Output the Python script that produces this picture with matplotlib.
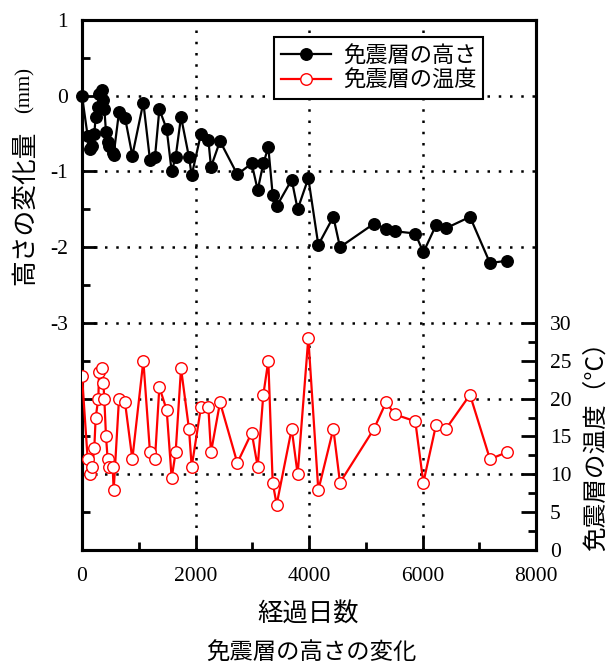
import matplotlib
matplotlib.use('Agg')
import matplotlib.pyplot as plt
from matplotlib.ticker import MultipleLocator, FixedLocator, FuncFormatter
from matplotlib.lines import Line2D

# ---- data ----
days = [0, 100, 141, 182, 217, 241, 288, 300, 347, 376,
        393, 423, 452, 481, 540, 558, 652, 758, 887, 1081,
        1198, 1286, 1363, 1492, 1580, 1650, 1745, 1885, 1933, 2097,
        2226, 2273, 2432, 2737, 2990, 3096, 3195, 3283, 3360, 3430,
        3695, 3800, 3988, 4164, 4429, 4546, 5145, 5357, 5515, 5873,
        6015, 6238, 6414, 6837, 7189, 7483]

height_mm = [0.0, -0.535, -0.71, -0.67, -0.5, -0.28, -0.15, 0.02, 0.07, -0.05,
             -0.17, -0.48, -0.61, -0.67, -0.75, -0.78, -0.215, -0.29, -0.79, -0.09,
             -0.85, -0.81, -0.18, -0.44, -1.0, -0.81, -0.28, -0.81, -1.05, -0.5,
             -0.58, -0.94, -0.6, -1.04, -0.895, -1.246, -0.895, -0.68, -1.31, -1.46,
             -1.11, -1.5, -1.09, -1.97, -1.6, -2.0, -1.69, -1.76, -1.79, -1.82,
             -2.07, -1.71, -1.75, -1.6, -2.21, -2.18]

temp_c = [23, 12, 10, 11, 13.5, 17.5, 20, 23.5, 24, 22.1,
          20, 15, 12, 11, 11, 7.9, 20, 19.5, 12, 25,
          12.9, 12, 21.5, 18.5, 9.5, 12.9, 24, 16, 11, 18.9,
          18.9, 12.9, 19.5, 11.5, 15.5, 11, 20.5, 25, 8.9, 6,
          16, 10, 28, 7.9, 16, 8.9, 16, 19.5, 17.9, 17,
          8.9, 16.5, 16, 20.5, 12, 12.9]

series_names = ['免震層の高さ', '免震層の温度']
left_label_jp = '高さの変化量'
left_label_unit = '(mm)'
right_label = '免震層の温度（°C）'
x_label = '経過日数'
caption = '免震層の高さの変化'
right_tick_values = [0, 5, 10, 15, 20, 25, 30]

CJK = ['Noto Sans CJK JP', 'DejaVu Sans']
TICKFONT = 'Liberation Serif'

fig = plt.figure(figsize=(6.08, 6.66), dpi=100)
ax = fig.add_axes([82/608, 1 - 550/666, 454/608, 530/666])
ax2 = ax.twinx()

# black series
ax.plot(days, height_mm, color='black', lw=1.6, marker='o', ms=8.3,
        mfc='black', mec='black', zorder=3, clip_on=False)
# red series
ax2.plot(days, temp_c, color='red', lw=1.6, marker='o', ms=8.3,
         mfc='white', mec='red', mew=1.0, zorder=3)

ax.set_xlim(0, 8000)
ax.set_ylim(-6, 1)
ax2.set_ylim(0, 70)

ax.xaxis.set_major_locator(MultipleLocator(2000))
ax.xaxis.set_minor_locator(MultipleLocator(1000))
ax.yaxis.set_major_locator(MultipleLocator(1))
ax.yaxis.set_minor_locator(MultipleLocator(0.5))
ax.yaxis.set_major_formatter(FuncFormatter(
    lambda v, p: f"{int(round(v))}" if v > -3.5 else ""))
ax.xaxis.set_major_formatter(FuncFormatter(lambda v, p: f"{int(round(v))}"))

ax2.yaxis.set_major_locator(FixedLocator(right_tick_values))
ax2.yaxis.set_minor_locator(FixedLocator([v + 2.5 for v in right_tick_values[:-1]]))
ax2.yaxis.set_major_formatter(FuncFormatter(lambda v, p: f"{int(round(v))}"))

for a in (ax, ax2):
    a.tick_params(which='major', direction='in', length=10.5, width=2.0,
                  labelsize=15.5, pad=10, color='black')
    a.tick_params(which='minor', direction='in', length=6, width=2.0)
    for lab in a.get_xticklabels() + a.get_yticklabels():
        lab.set_family(TICKFONT)
    for s in a.spines.values():
        s.set_linewidth(2.2)
ax.tick_params(axis='x', which='major', pad=12)
ax.tick_params(top=False, right=False, which='both')
ax2.tick_params(left=False, top=False, which='both')

ax.grid(True, which='major', color='black', linestyle=(0, (1, 3.5)), linewidth=1.8)
ax.set_axisbelow(True)

# labels
fig.text(25/608, 1 - 208/666, left_label_jp, rotation=90, ha='center', va='center',
         fontsize=18.5, family=CJK)
fig.text(25/608, 1 - 90/666, left_label_unit, rotation=90, ha='center', va='center',
         fontsize=15, family=TICKFONT)
fig.text(596/608, 1 - 440/666, right_label, rotation=90, ha='center', va='center',
         fontsize=17.7, family=CJK)
fig.text(308/608, 1 - 614/666, x_label, ha='center', va='center',
         fontsize=18.3, family=CJK)
fig.text(311/608, 1 - 652/666, caption, ha='center', va='center',
         fontsize=16.8, family=CJK)

handles = [Line2D([], [], color='black', lw=1.6, marker='o', ms=8.3, mfc='black', mec='black'),
           Line2D([], [], color='red', lw=1.6, marker='o', ms=8.3, mfc='white', mec='red', mew=1.0)]
leg = ax2.legend(handles, series_names, loc='upper left',
                 bbox_to_anchor=(274/608, 1 - 37/666), bbox_transform=fig.transFigure,
                 borderaxespad=0,
                 prop={'family': CJK, 'size': 16}, frameon=True, fancybox=False,
                 edgecolor='black', framealpha=1, handlelength=2.25,
                 handletextpad=0.55, labelspacing=0.1, borderpad=0.3)
leg.get_frame().set_linewidth(1.5)

fig.savefig('out.png', dpi=100)
